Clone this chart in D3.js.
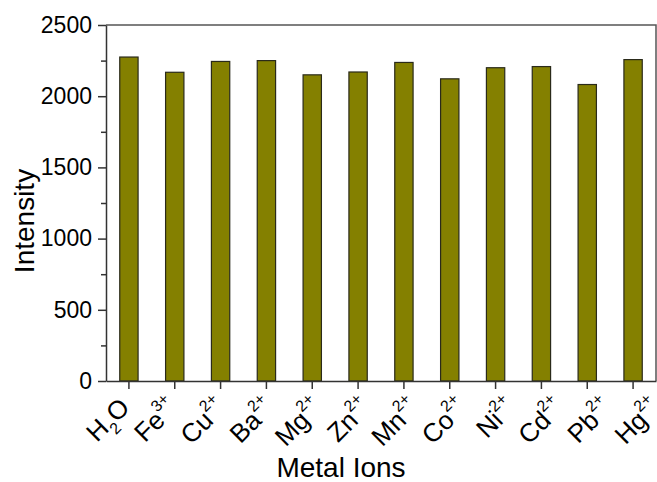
<!DOCTYPE html>
<html>
<head>
<meta charset="utf-8">
<script src="https://cdn.jsdelivr.net/npm/d3@7"></script>
<style>
  body { margin: 0; background: #fff; }
  svg text { font-family: "Liberation Sans", Arial, sans-serif; fill: #000; }
</style>
</head>
<body>
<div id="chart"></div>
<script>
var width = 657,
	height = 482;

// data
var ions = ["H2O", "Fe", "Cu", "Ba", "Mg", "Zn", "Mn", "Co", "Ni", "Cd", "Pb", "Hg"];
var charges = ["", "3+", "2+", "2+", "2+", "2+", "2+", "2+", "2+", "2+", "2+", "2+"];
var intensity = [2275, 2168, 2244, 2250, 2150, 2170, 2237, 2122, 2200, 2208, 2082, 2257];
var yTicks = [0, 500, 1000, 1500, 2000, 2500];
var yMinor = [250, 750, 1250, 1750, 2250];

var margin = {left: 106, right: 1, top: 25, bottom: 101};

var svg = d3.select("#chart").append("svg")
	.attr("width", width)
	.attr("height", height);

var x = d3.scaleBand()
	.domain(ions)
	.range([margin.left, width - margin.right])
	.paddingInner(0.6)
	.paddingOuter(0.3);

// the rotated labels sit on a slightly wider spacing than the ticks
var xLabel = d3.scalePoint()
	.domain(ions)
	.range([131, 662]);

var y = d3.scaleLinear()
	.domain([0, 2500])
	.range([height - margin.bottom, margin.top]);

// frame: top and right lines
svg.append("path")
	.attr("d", "M" + margin.left + "," + margin.top + "H" + (width - margin.right) + "V" + y(0))
	.attr("fill", "none")
	.attr("stroke", "#555")
	.attr("stroke-width", 1.5);

// bars
svg.selectAll(".bar")
	.data(intensity)
	.enter()
	.append("rect")
	.attr("class", "bar")
	.attr("x", function(d, i){ return x(ions[i]); })
	.attr("y", function(d){ return y(d); })
	.attr("width", x.bandwidth())
	.attr("height", function(d){ return y(0) - y(d); })
	.attr("fill", "#848000")
	.attr("stroke", "#2a2a1a")
	.attr("stroke-width", 1.2);

// y axis, minor ticks first
var yMinorAxis = svg.append("g")
	.attr("transform", "translate(" + margin.left + ",0)")
	.call(d3.axisLeft(y).tickValues(yMinor).tickSize(5).tickSizeOuter(0).tickFormat(""));
yMinorAxis.select(".domain").remove();

var yAxis = svg.append("g")
	.attr("transform", "translate(" + margin.left + ",0)")
	.call(d3.axisLeft(y).tickValues(yTicks).tickSize(8).tickSizeOuter(0).tickPadding(6).tickFormat(d3.format("d")));
yAxis.selectAll("text")
	.style("font-size", "23px");
svg.selectAll(".tick line, .domain")
	.attr("stroke", "#333")
	.attr("stroke-width", 1.5);

// x axis
var xAxis = svg.append("g")
	.attr("transform", "translate(0," + y(0) + ")")
	.call(d3.axisBottom(x).tickSize(8).tickSizeOuter(0).tickFormat(""));
xAxis.selectAll(".tick line, .domain")
	.attr("stroke", "#333")
	.attr("stroke-width", 1.5);

// rotated ion labels with super/subscripts
var labels = svg.selectAll(".ionlabel")
	.data(ions)
	.enter()
	.append("text")
	.attr("class", "ionlabel")
	.attr("text-anchor", "end")
	.style("font-size", "26px")
	.attr("transform", function(d){
		return "translate(" + xLabel(d) + "," + (y(0) + 28) + ") rotate(-45)";
	});

labels.each(function(d, i){
	var t = d3.select(this);
	if (d === "H2O") {
		t.append("tspan").text("H");
		t.append("tspan").attr("dy", 8).style("font-size", "16px").text("2");
		t.append("tspan").attr("dy", -8).text("O");
	} else {
		t.append("tspan").text(d);
		t.append("tspan").attr("dy", -13).style("font-size", "16px").text(charges[i]);
	}
});

// axis titles
svg.append("text")
	.attr("x", 341)
	.attr("y", 477)
	.attr("text-anchor", "middle")
	.style("font-size", "28px")
	.text("Metal Ions");

svg.append("text")
	.attr("transform", "translate(34,221) rotate(-90)")
	.attr("text-anchor", "middle")
	.style("font-size", "28px")
	.text("Intensity");
</script>
</body>
</html>
